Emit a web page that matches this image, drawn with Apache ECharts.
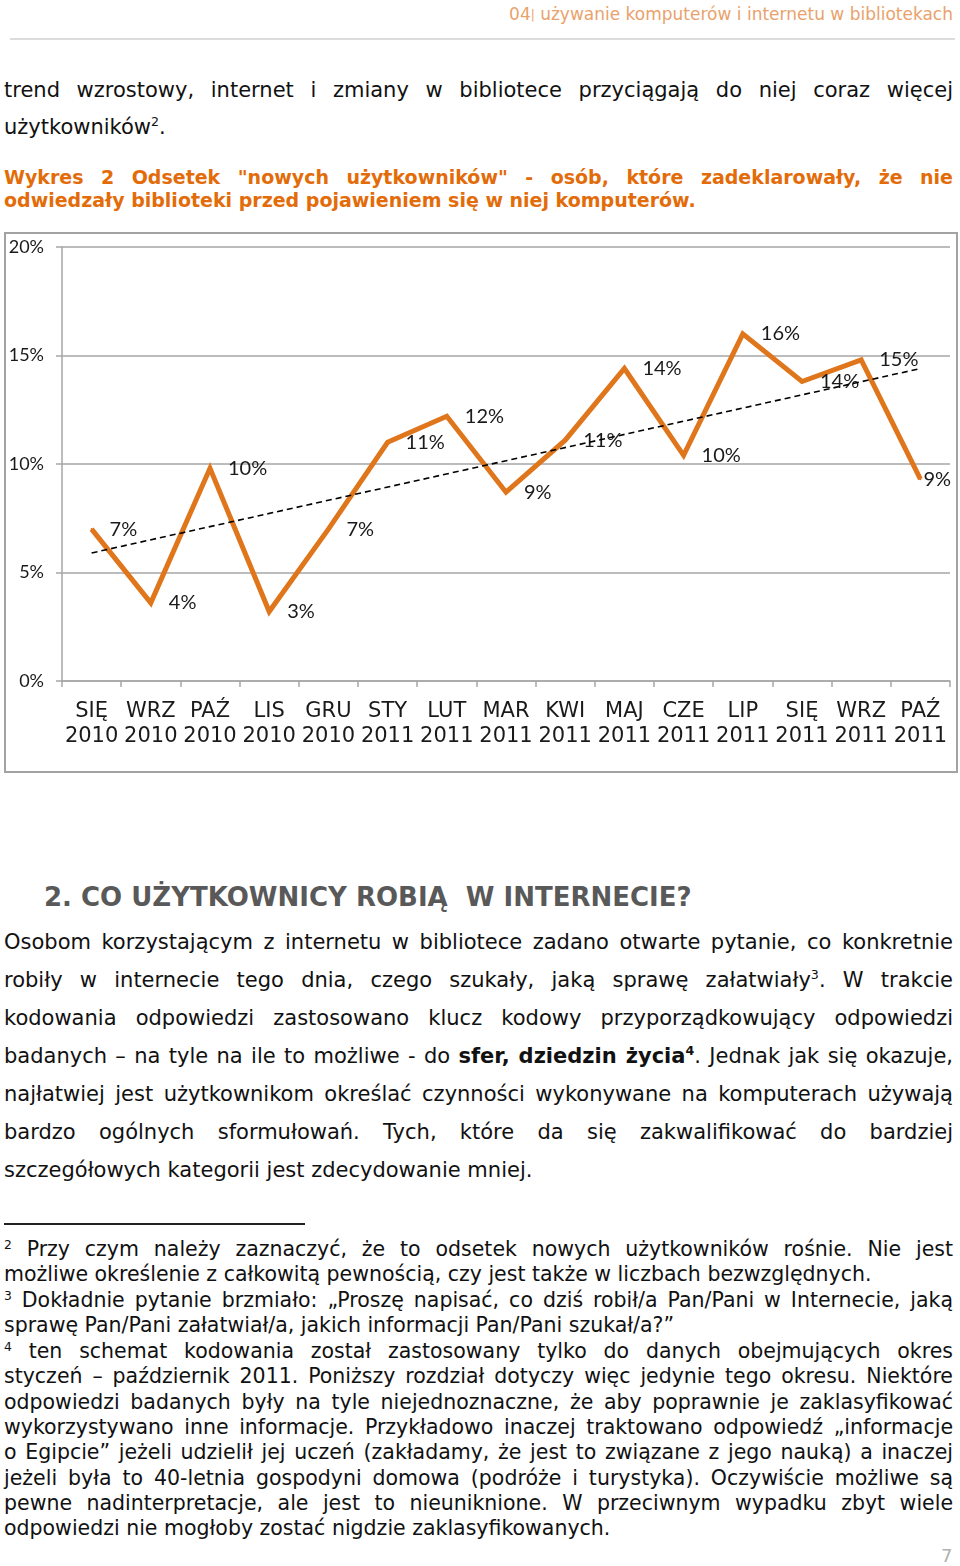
<!DOCTYPE html>
<html>
<head>
<meta charset="utf-8">
<script src="https://cdn.jsdelivr.net/npm/echarts@6/dist/echarts.min.js"></script>
<style>
  html, body { margin:0; padding:0; background:#fff; }
  body { width:960px; height:1566px; position:relative; overflow:hidden; font-family:"DejaVu Sans", Verdana, sans-serif; color:#111; }
  .ln { position:absolute; left:4px; width:949px; white-space:nowrap; }
  .j { text-align:justify; text-align-last:justify; }
  .body { font-size:21px; line-height:26px; }
  .cap { font-size:19px; line-height:22px; font-weight:bold; color:#E36C0A; }
  .fn { font-size:20.5px; line-height:24px; }
  sup { font-size:0.6em; vertical-align:0.6em; line-height:0; }
  #hdr { position:absolute; right:7px; top:4px; font-size:17px; color:#E9A26C; white-space:nowrap; }
  #hdrline { position:absolute; left:10px; top:38px; width:945px; height:2px; background:#dcdcdc; }
  #box { position:absolute; left:4px; top:232px; width:950px; height:537px; border:2px solid #a3a3a3; }
  #chart { position:absolute; left:4px; top:232px; width:954px; height:541px; }
  #h2 { position:absolute; left:44px; top:882px; font-size:26px; font-weight:bold; color:#595959; white-space:nowrap; line-height:30px; }
  #fnrule { position:absolute; left:4px; top:1223px; width:301px; height:2px; background:#222; }
  #pg { position:absolute; left:941px; top:1545px; font-size:18px; color:#b0b0b0; }
</style>
</head>
<body>
<div id="hdr">04<span style="font-size:12px;vertical-align:1px;">|</span> używanie komputerów i internetu w bibliotekach</div>
<div id="hdrline"></div>

<div class="ln body j" style="top:77px">trend wzrostowy, internet i zmiany w bibliotece przyciągają do niej coraz więcej</div>
<div class="ln body" style="top:114px">użytkowników<sup>2</sup>.</div>

<div class="ln cap j" style="top:166px">Wykres 2 Odsetek "nowych użytkowników" - osób, które zadeklarowały, że nie</div>
<div class="ln cap" style="top:189px">odwiedzały biblioteki przed pojawieniem się w niej komputerów.</div>

<div id="box"></div>
<div id="chart"></div>

<div id="h2">2. CO UŻYTKOWNICY ROBIĄ&nbsp; W INTERNECIE?</div>

<div class="ln body j" style="top:929px">Osobom korzystającym z internetu w bibliotece zadano otwarte pytanie, co konkretnie</div>
<div class="ln body j" style="top:967px">robiły w internecie tego dnia, czego szukały, jaką sprawę załatwiały<sup>3</sup>. W trakcie</div>
<div class="ln body j" style="top:1005px">kodowania odpowiedzi zastosowano klucz kodowy przyporządkowujący odpowiedzi</div>
<div class="ln body j" style="top:1043px">badanych – na tyle na ile to możliwe - do <b>sfer, dziedzin życia<sup>4</sup></b>. Jednak jak się okazuje,</div>
<div class="ln body j" style="top:1081px">najłatwiej jest użytkownikom określać czynności wykonywane na komputerach używają</div>
<div class="ln body j" style="top:1119px">bardzo ogólnych sformułowań. Tych, które da się zakwalifikować do bardziej</div>
<div class="ln body" style="top:1157px">szczegółowych kategorii jest zdecydowanie mniej.</div>

<div id="fnrule"></div>
<div class="ln fn j" style="top:1237px"><sup>2</sup> Przy czym należy zaznaczyć, że to odsetek nowych użytkowników rośnie. Nie jest</div>
<div class="ln fn" style="top:1262px">możliwe określenie z całkowitą pewnością, czy jest także w liczbach bezwzględnych.</div>
<div class="ln fn j" style="top:1288px"><sup>3</sup> Dokładnie pytanie brzmiało: „Proszę napisać, co dziś robił/a Pan/Pani w Internecie, jaką</div>
<div class="ln fn" style="top:1313px">sprawę Pan/Pani załatwiał/a, jakich informacji Pan/Pani szukał/a?”</div>
<div class="ln fn j" style="top:1339px"><sup>4</sup> ten schemat kodowania został zastosowany tylko do danych obejmujących okres</div>
<div class="ln fn j" style="top:1364px">styczeń – październik 2011. Poniższy rozdział dotyczy więc jedynie tego okresu. Niektóre</div>
<div class="ln fn j" style="top:1390px">odpowiedzi badanych były na tyle niejednoznaczne, że aby poprawnie je zaklasyfikować</div>
<div class="ln fn j" style="top:1415px">wykorzystywano inne informacje. Przykładowo inaczej traktowano odpowiedź „informacje</div>
<div class="ln fn j" style="top:1440px">o Egipcie” jeżeli udzielił jej uczeń (zakładamy, że jest to związane z jego nauką) a inaczej</div>
<div class="ln fn j" style="top:1466px">jeżeli była to 40-letnia gospodyni domowa (podróże i turystyka). Oczywiście możliwe są</div>
<div class="ln fn j" style="top:1491px">pewne nadinterpretacje, ale jest to nieuniknione. W przeciwnym wypadku zbyt wiele</div>
<div class="ln fn" style="top:1516px">odpowiedzi nie mogłoby zostać nigdzie zaklasyfikowanych.</div>

<div id="pg">7</div>

<script>
// ---- data ----
const months = ['SIĘ','WRZ','PAŹ','LIS','GRU','STY','LUT','MAR','KWI','MAJ','CZE','LIP','SIĘ','WRZ','PAŹ'];
const years  = ['2010','2010','2010','2010','2010','2011','2011','2011','2011','2011','2011','2011','2011','2011','2011'];
const values = [7.0, 3.6, 9.8, 3.2, 7.0, 11.0, 12.2, 8.7, 11.1, 14.4, 10.4, 16.0, 13.8, 14.8, 9.3];
const trendStart = 5.9;
const trendEnd = 14.4;
const yMin = 0, yMax = 20, yStep = 5;

// fit over-long justified lines
function fitLines() {
  document.querySelectorAll('.ln').forEach(el => {
    const s = document.createElement('span');
    s.innerHTML = el.innerHTML;
    s.style.cssText = 'position:absolute;visibility:hidden;white-space:nowrap;';
    el.appendChild(s);
    const w = s.getBoundingClientRect().width;
    el.removeChild(s);
    const avail = el.clientWidth;
    if (w > avail) {
      const n = el.textContent.length;
      el.style.letterSpacing = ((avail - w) / n - 0.05) + 'px';
    }
  });
}
fitLines();

const categories = months.map((m, i) => m + '\n' + years[i]);
const orange = '#E0761C';
const grey = '#a6a6a6';

const chart = echarts.init(document.getElementById('chart'), null, { renderer: 'canvas' });
const lineData = values.map((v, i) => i === values.length - 1 ? { value: v, label: { distance: 2 } } : v);
const trendData = values.map((v, i) => i === 0 ? trendStart : (i === values.length - 1 ? trendEnd : null));

chart.setOption({
  animation: false,
  grid: { left: 58, right: 8, top: 15, bottom: 92 },
  xAxis: {
    type: 'category',
    data: categories,
    boundaryGap: true,
    axisLine: { lineStyle: { color: grey, width: 1.5 } },
    axisTick: { show: true, length: 6, lineStyle: { color: grey, width: 1.5 } },
    axisLabel: { interval: 0, fontFamily: 'DejaVu Sans', fontSize: 21, color: '#1a1a1a', lineHeight: 25, margin: 18 }
  },
  yAxis: {
    type: 'value', min: yMin, max: yMax, interval: yStep,
    axisLine: { show: true, lineStyle: { color: grey, width: 1.5 } },
    axisTick: { show: true, length: 6, lineStyle: { color: grey, width: 1.5 } },
    splitLine: { lineStyle: { color: grey, width: 1.5 } },
    axisLabel: { formatter: '{value}%', fontFamily: 'Lato', fontSize: 18, color: '#1a1a1a', margin: 18 }
  },
  series: [
    {
      type: 'line',
      data: lineData,
      symbol: 'circle',
      symbolSize: 2,
      lineStyle: { color: orange, width: 5, join: 'miter' },
      itemStyle: { color: orange },
      label: {
        show: true, position: 'right', distance: 17,
        fontFamily: 'Lato', fontSize: 20, color: '#1a1a1a',
        formatter: p => Math.round(p.value) + '%'
      },
      z: 2
    },
    {
      type: 'line',
      data: trendData,
      connectNulls: true,
      symbol: 'none',
      lineStyle: { color: '#000', width: 1.6, type: [6, 4] },
      z: 3
    }
  ]
});
</script>
</body>
</html>
